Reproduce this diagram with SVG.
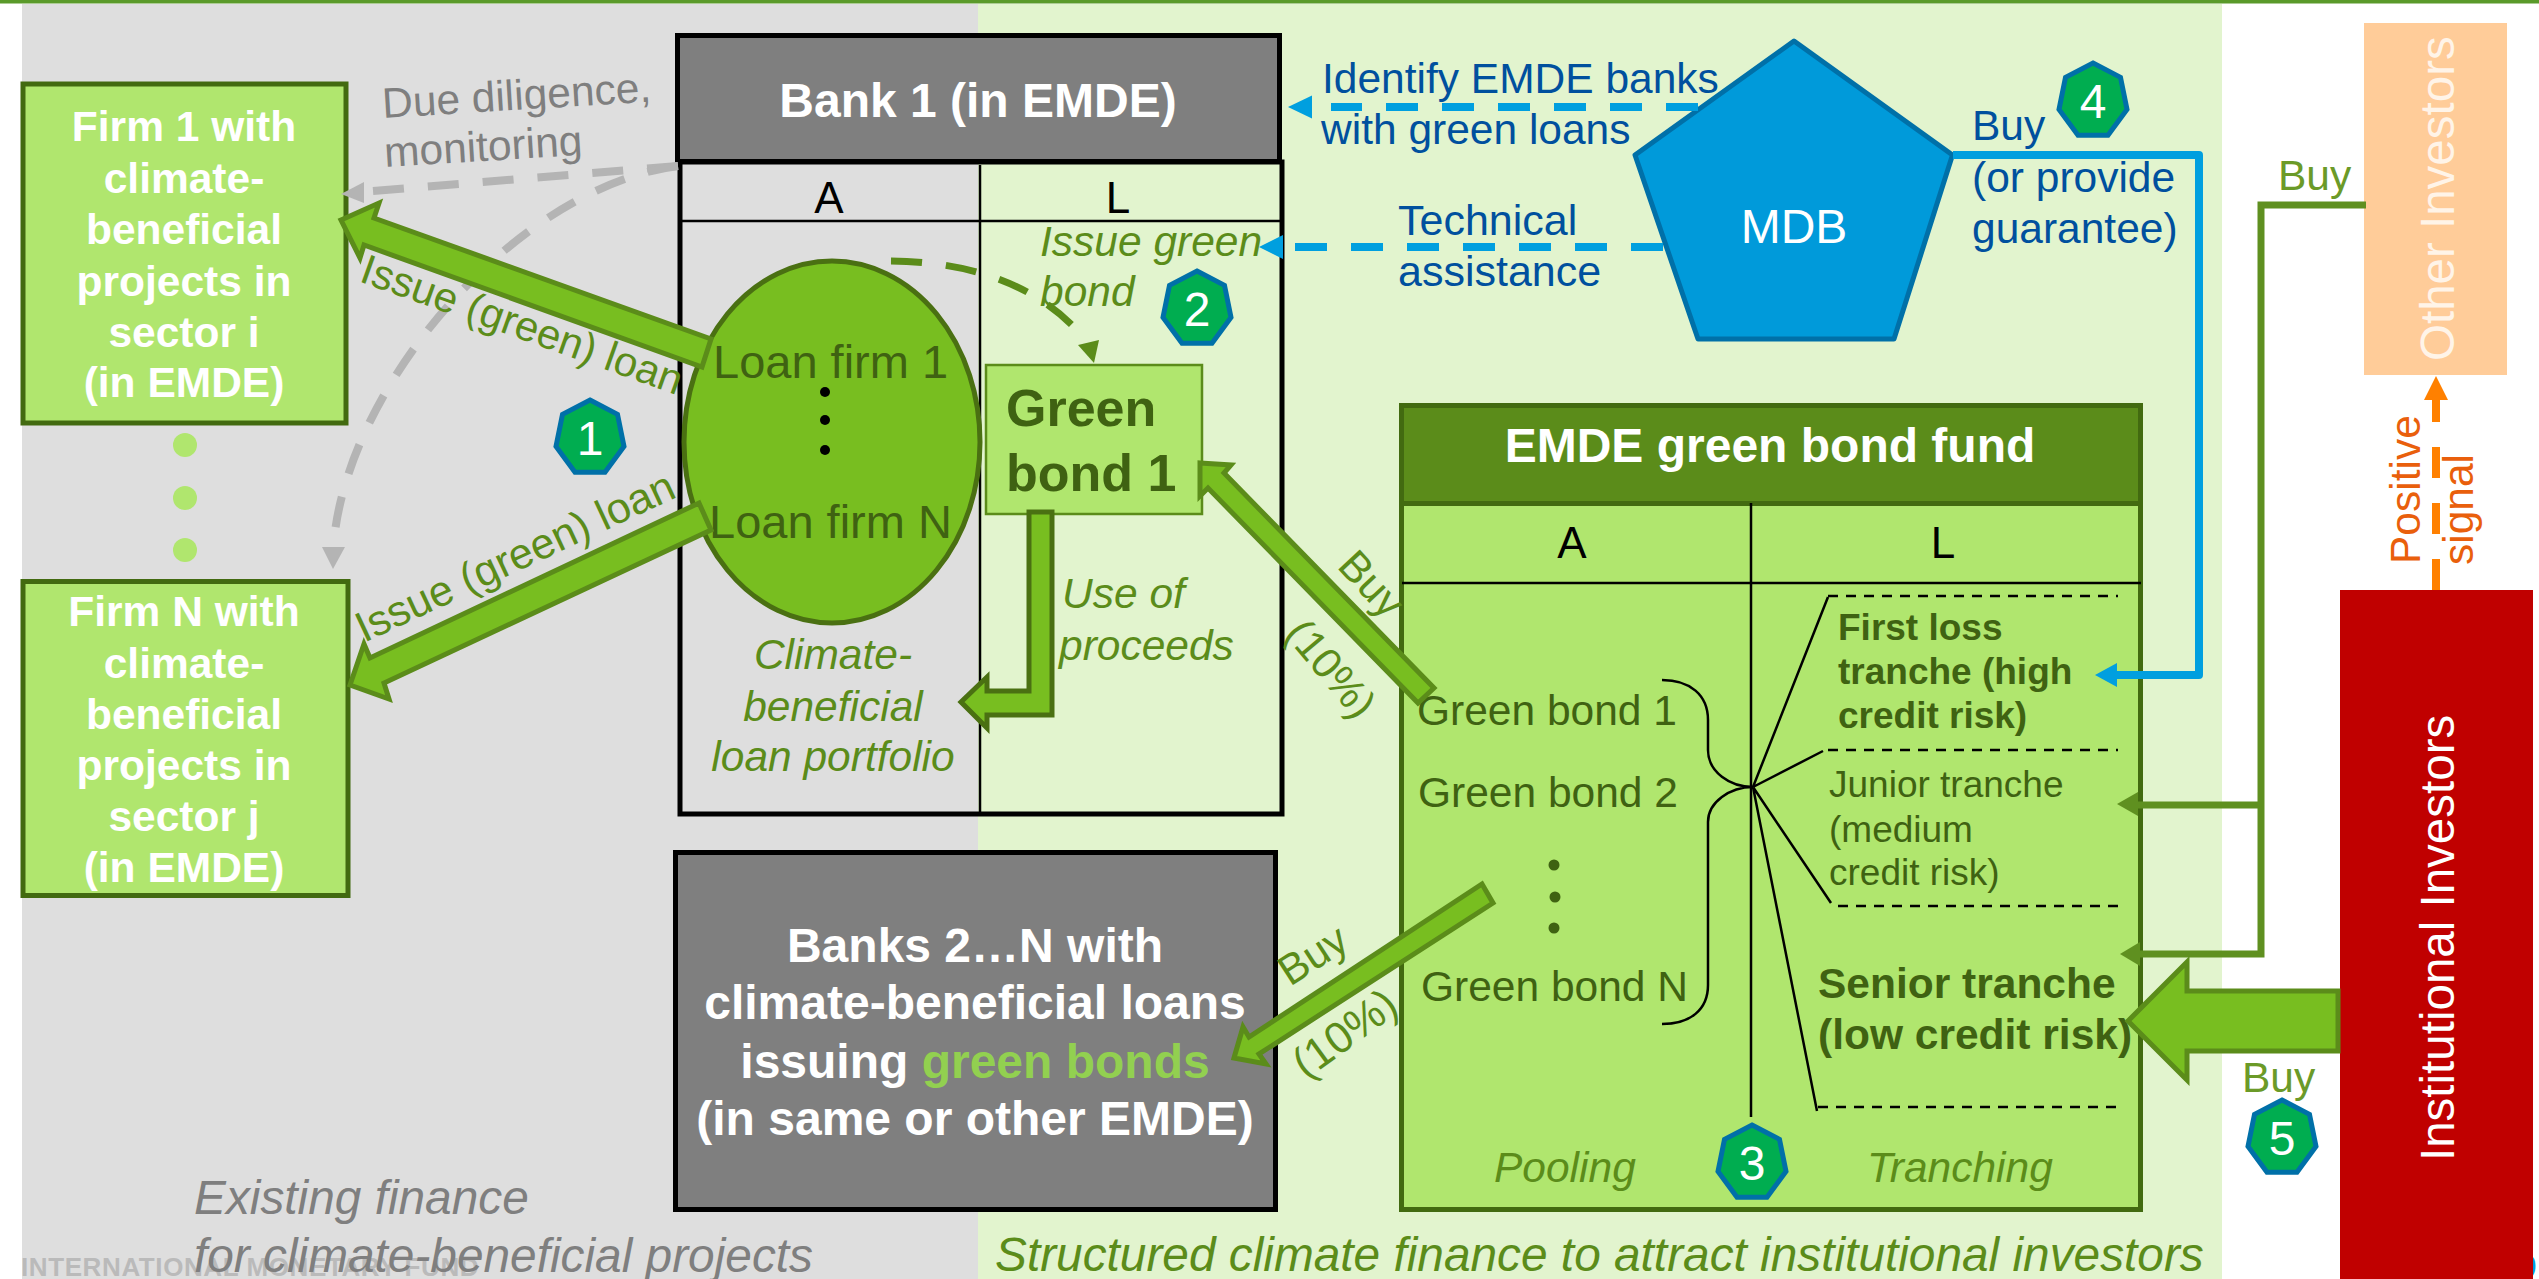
<svg xmlns="http://www.w3.org/2000/svg" xmlns:xlink="http://www.w3.org/1999/xlink" width="2539" height="1279" viewBox="0 0 2539 1279">
<style>
text{font-family:"Liberation Sans",Arial,sans-serif}
.w{fill:#fff}.b{font-weight:700}.c{text-anchor:middle}.i{font-style:italic}
.f42{font-size:42.500px}.f48{font-size:48px}.f37{font-size:37px}
.ol{fill:#5B8C1A}.dk{fill:#3F6212}.bl{fill:#00509E}.gy{fill:#7F7F7F}.k{fill:#000}
.firm{fill:#B0E66E;stroke:#426A10;stroke-width:5}
.gbox{fill:#7F7F7F;stroke:#000;stroke-width:5}
.big{fill:#78BE20;stroke:#5B8C1A;stroke-width:5;stroke-linejoin:miter}
.big2{fill:#78BE20;stroke:#4A7012;stroke-width:5}
.gdash{fill:none;stroke:#B4B4B4;stroke-width:8;stroke-dasharray:31 24}
.bdash{fill:none;stroke:#009FDF;stroke-width:8;stroke-dasharray:32 24}
.thin{fill:none;stroke:#000;stroke-width:2.5}
.dash{fill:none;stroke:#000;stroke-width:2.5;stroke-dasharray:10 8}
.badge{fill:#00AD50;stroke:#0070A8;stroke-width:5}
</style>
<defs>
<polygon id="hept" points="0,-38 27.500,-23.700 34,8.500 15,34.200 -15,34.200 -34,8.500 -27.500,-23.700"/>
</defs>
<rect width="2539" height="1279" fill="#fff"/>
<g id="background">
<rect x="0" y="0" width="2539" height="3.500" fill="#5A9A2A"/>
<rect x="22" y="4" width="956" height="1275" fill="#DEDEDE"/>
<rect x="978" y="4" width="1244" height="1275" fill="#E2F4CE"/>
<text x="21" y="1276" class="b" font-size="26" letter-spacing="0.600" fill="#BABABA">INTERNATIONAL MONETARY FUND</text>
<text x="2518" y="1278" font-size="34" fill="#009FDF">9</text>
<text x="194" y="1214" class="i gy" font-size="47.800">Existing finance</text>
<text x="194" y="1272" class="i gy" font-size="47.800">for climate-beneficial projects</text>
<text x="995" y="1271" class="i ol" font-size="47.800">Structured climate finance to attract institutional investors</text>
</g>
<g id="bank1">
<rect x="680" y="162" width="602" height="652" fill="none" stroke="#000" stroke-width="5"/>
<path d="M980,165V816M680,221H1282" fill="none" stroke="#000" stroke-width="2.500"/>
<rect class="gbox" x="677.500" y="35.500" width="602" height="126"/>
<text x="978" y="116.500" class="w b c f48">Bank 1 (in EMDE)</text>
<text x="829" y="213" class="k c" font-size="44">A</text>
<text x="1118" y="213" class="k c" font-size="44">L</text>
<text x="833" y="669" class="i f42 ol c">Climate-</text>
<text x="833" y="721" class="i f42 ol c">beneficial</text>
<text x="833" y="771" class="i f42 ol c">loan portfolio</text>
<text x="1062" y="608" class="i f42 ol">Use of</text>
<text x="1059" y="660" class="i f42 ol">proceeds</text>
</g>
<g id="loans">
<ellipse cx="832" cy="442" rx="148" ry="181" fill="#78BE20" stroke="#4A7012" stroke-width="5"/>
<text x="713" y="378" font-size="47" class="dk">Loan firm 1</text>
<text x="709" y="538" font-size="47" class="dk">Loan firm N</text>
<circle cx="825" cy="392" r="5"/><circle cx="825" cy="420" r="5"/><circle cx="825" cy="450" r="5"/>
</g>
<g id="greenbond1">
<rect x="986" y="365" width="216" height="149" fill="#B0E66E" stroke="#5B8C1A" stroke-width="2.500"/>
<text x="1006" y="426" class="b dk" font-size="52">Green</text>
<text x="1006" y="491" class="b dk" font-size="52">bond 1</text>
</g>
<g id="firm1">
<rect class="firm" x="23" y="84" width="323" height="339"/>
<text x="184" y="141" class="w b c f42">Firm 1 with</text>
<text x="184" y="193" class="w b c f42">climate-</text>
<text x="184" y="244" class="w b c f42">beneficial</text>
<text x="184" y="296" class="w b c f42">projects in</text>
<text x="184" y="346.500" class="w b c f42">sector i</text>
<text x="184" y="397" class="w b c f42">(in EMDE)</text>
</g>
<g id="firmdots" fill="#B0E66E"><circle cx="185" cy="445" r="12"/><circle cx="185" cy="498" r="12"/><circle cx="185" cy="550" r="12"/></g>
<g id="firmN">
<rect class="firm" x="23" y="581.500" width="325" height="314"/>
<text x="184" y="626" class="w b c f42">Firm N with</text>
<text x="184" y="678" class="w b c f42">climate-</text>
<text x="184" y="729" class="w b c f42">beneficial</text>
<text x="184" y="780" class="w b c f42">projects in</text>
<text x="184" y="831" class="w b c f42">sector j</text>
<text x="184" y="882" class="w b c f42">(in EMDE)</text>
</g>
<g id="banks2N">
<rect class="gbox" x="675.500" y="852.500" width="600" height="357"/>
<text x="975" y="962" class="w b c f48">Banks 2…N with</text>
<text x="975" y="1019" class="w b c f48">climate-beneficial loans</text>
<text x="975" y="1078" class="w b c f48">issuing <tspan fill="#92D050">green bonds</tspan></text>
<text x="975" y="1135" class="w b c f48">(in same or other EMDE)</text>
</g>
<g id="fund">
<rect x="1401.500" y="405.500" width="739" height="804" fill="#B0E66E" stroke="#426A10" stroke-width="5"/>
<rect x="1401.500" y="405.500" width="739" height="98" fill="#5B8C1A" stroke="#426A10" stroke-width="5"/>
<text x="1770" y="462" class="w b c f48">EMDE green bond fund</text>
<path d="M1751,503V1117M1402,583H2141" fill="none" stroke="#000" stroke-width="2.500"/>
<text x="1572" y="558" class="k c" font-size="44">A</text>
<text x="1943" y="558" class="k c" font-size="44">L</text>
<text x="1417" y="725" class="f42 dk">Green bond 1</text>
<text x="1418" y="807" class="f42 dk">Green bond 2</text>
<text x="1421" y="1001" class="f42 dk">Green bond N</text>
<g fill="#3F6212"><circle cx="1554" cy="865" r="5.500"/><circle cx="1555" cy="897" r="5.500"/><circle cx="1554" cy="928" r="5.500"/></g>
<path class="thin" d="M1662,680C1690,680 1708,695 1708,720V750C1708,772 1730,787 1753,787C1730,787 1708,802 1708,822V985C1708,1010 1690,1024 1662,1024"/>
<path class="thin" d="M1753,787L1828,597M1753,787L1823,751M1753,787L1831,903M1753,787L1817,1111"/>
<path class="dash" d="M1828,596H2118M1828,750H2118M1838,906H2125M1818,1107H2123"/>
<text x="1838" y="640" class="b f37 dk">First loss</text>
<text x="1838" y="684" class="b f37 dk">tranche (high</text>
<text x="1838" y="728" class="b f37 dk">credit risk)</text>
<text x="1829" y="797" class="f37 dk">Junior tranche</text>
<text x="1829" y="842" class="f37 dk">(medium</text>
<text x="1829" y="885" class="f37 dk">credit risk)</text>
<text x="1818" y="998" class="b dk" font-size="42.500">Senior tranche</text>
<text x="1818" y="1049" class="b dk" font-size="42.500">(low credit risk)</text>
<text x="1494" y="1182" class="i f42 ol">Pooling</text>
<text x="1867" y="1182" class="i f42 ol">Tranching</text>
</g>
<g id="mdb">
<polygon points="1794,41 1952.500,155 1894,339 1698,339 1635,155" fill="#009ADA" stroke="#0070A8" stroke-width="5" stroke-linejoin="round"/>
<text x="1794" y="243" class="w c" font-size="48">MDB</text>
</g>
<g id="other-investors">
<rect x="2364" y="23" width="143" height="352" fill="#FFCC99"/>
<text transform="translate(2454,361) rotate(-90)" font-size="47.500" fill="#FFF4E8">Other Investors</text>
</g>
<g id="institutional-investors">
<rect x="2340" y="590" width="193" height="689" fill="#C00000"/>
<text transform="translate(2454,1161) rotate(-90)" class="w" font-size="47.500">Institutional Investors</text>
</g>
<g id="connectors">
<path class="gdash" d="M678,166L372,191"/>
<polygon points="341,194 364,182 364,203" fill="#B4B4B4"/>
<path class="gdash" d="M678,166C520,186 350,380 334,540"/>
<polygon points="333,569 322,547 345,547" fill="#B4B4B4"/>
<polygon class="big" points="341,220 379,203 374,218 711,339 702,367 364,245 360,258"/>
<polygon class="big" points="350,685 364,644 370,658 699,503 711,530 384,683 389,699"/>
<path d="M891,261Q1010,262 1075,328" fill="none" stroke="#5B8C1A" stroke-width="7" stroke-dasharray="31 24"/>
<polygon points="1094,363 1078,345 1099,340" fill="#5B8C1A"/>
<polygon class="big2" points="961,702 987,677 987,691 1029,691 1029,512 1052,512 1052,715 987,715 987,728"/>
<polygon class="big" points="1200,463 1231,465 1224,473 1434,688 1418,703 1208,488 1200,496"/>
<polygon class="big" points="1234,1058 1243,1027 1249,1037 1482,884 1493,903 1259,1054 1266,1064"/>
<path class="bdash" d="M1698,107H1331"/>
<polygon points="1288,107 1312,95.500 1312,118.500" fill="#009FDF"/>
<path class="bdash" d="M1663,247H1295"/>
<polygon points="1259,247 1283,235 1283,259" fill="#009FDF"/>
<path d="M1953,155H2199V675H2115" fill="none" stroke="#009FDF" stroke-width="8" stroke-linejoin="round"/>
<polygon points="2095,675 2117,663 2117,687" fill="#009FDF"/>
<path d="M2366,205H2261V805H2136M2261,805V954H2138" fill="none" stroke="#5F9020" stroke-width="7"/>
<polygon points="2117,804 2138,792 2138,816" fill="#5F9020"/>
<polygon points="2120,954 2140,942 2140,966" fill="#5F9020"/>
<polygon class="big" points="2128,1021 2187,962 2187,991 2338,991 2338,1051 2187,1051 2187,1080"/>
<path d="M2436,590V398" fill="none" stroke="#FF8000" stroke-width="8" stroke-dasharray="31 25"/>
<polygon points="2436,376 2424,400 2448,400" fill="#FF8000"/>
</g>
<g id="labels">
<text transform="translate(383,118) rotate(-3.500)" class="f42 gy">Due diligence,</text>
<text transform="translate(385,167) rotate(-3.500)" class="f42 gy">monitoring</text>
<text transform="translate(358,281) rotate(19.700)" font-size="42" class="ol">Issue (green) loan</text>
<text transform="translate(364,643) rotate(-25)" font-size="43" class="ol">Issue (green) loan</text>
<text x="1040" y="256" class="i f42 ol">Issue green</text>
<text x="1040" y="306" class="i f42 ol">bond</text>
<text transform="translate(1336,567) rotate(47)" class="f42 ol">Buy</text>
<text transform="translate(1320,678) rotate(50)" class="f42 ol c">(10%)</text>
<text transform="translate(1290,987) rotate(-33)" class="f42 ol">Buy</text>
<text transform="translate(1306,1080) rotate(-36)" font-size="44" class="ol">(10%)</text>
<text x="1322" y="93" class="f42 bl">Identify EMDE banks</text>
<text x="1321" y="144" class="f42 bl">with green loans</text>
<text x="1398" y="235" class="bl" font-size="43">Technical</text>
<text x="1398" y="286" class="bl" font-size="43">assistance</text>
<text x="1972" y="140" class="f42 bl">Buy</text>
<text x="1972" y="192" class="f42 bl">(or provide</text>
<text x="1972" y="243" class="f42 bl">guarantee)</text>
<text x="2278" y="190" class="f42" fill="#6B9A28">Buy</text>
<text x="2242" y="1092" class="f42" fill="#6B9A28">Buy</text>
<text transform="translate(2420,564) rotate(-90)" class="f42" fill="#E95F0C">Positive</text>
<text transform="translate(2473,565) rotate(-90)" class="f42" fill="#E95F0C">signal</text>
</g>
<g id="badges">
<g id="badge1"><use xlink:href="#hept" href="#hept" x="590" y="438" class="badge"/><text x="590" y="455" class="w c f48">1</text></g>
<g id="badge2"><use xlink:href="#hept" href="#hept" x="1197" y="309" class="badge"/><text x="1197" y="326" class="w c f48">2</text></g>
<g id="badge3"><use xlink:href="#hept" href="#hept" x="1752" y="1163" class="badge"/><text x="1752" y="1180" class="w c f48">3</text></g>
<g id="badge4"><use xlink:href="#hept" href="#hept" x="2093" y="101" class="badge"/><text x="2093" y="118" class="w c f48">4</text></g>
<g id="badge5"><use xlink:href="#hept" href="#hept" x="2282" y="1138" class="badge"/><text x="2282" y="1155" class="w c f48">5</text></g>
</g>
</svg>
